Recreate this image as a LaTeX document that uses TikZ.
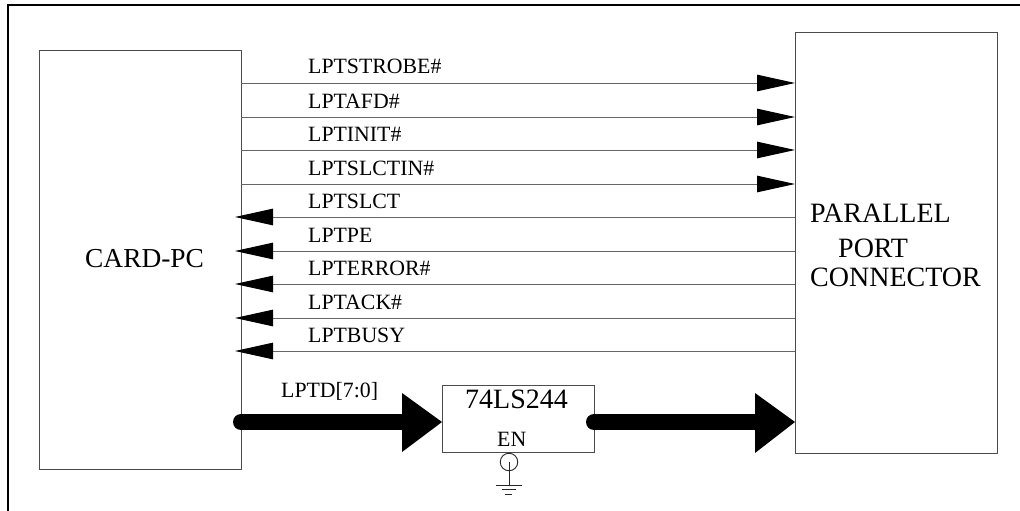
\documentclass[tikz,border=0pt]{standalone}
\usepackage{fontspec}
\setmainfont{Liberation Serif}
\usetikzlibrary{arrows.meta}
\tikzset{
  x=1pt,y=-1pt,
  blk/.style={draw=black!70,line width=0.9pt,fill=white,inner sep=0pt},
  sig/.style={draw=black!60,line width=1pt,-{Triangle[length=38pt,width=16.5pt,color=black]}},
  sigl/.style={font=\fontsize{21.8}{24}\selectfont,anchor=base west,inner sep=0pt},
  big/.style={line width=16pt,line cap=round,black},
  bighead/.style={fill=black,draw=none},
  txt/.style={font=\fontsize{28}{30}\selectfont,anchor=base west,inner sep=0pt},
  smalltxt/.style={font=\fontsize{21.8}{24}\selectfont,anchor=base west,inner sep=0pt},
  gnd/.style={draw=black!85,line width=0.9pt},
}
\begin{document}
\begin{tikzpicture}
\useasboundingbox (0,0) rectangle (1020,511);
\draw[line width=2pt,black] (8,511) -- (8,5) -- (1020,5);
% boxes
\node[blk,minimum width=202pt,minimum height=419pt] (cp) at (140,259.5) {};
\node[blk,minimum width=202pt,minimum height=421pt] (pp) at (896,242.5) {};
\node[blk,minimum width=152pt,minimum height=67pt] (ls) at (518,419) {};
\node[txt,font=\fontsize{27.4}{30}\selectfont] (cpt) at (85,267) {CARD-PC};
\node[txt] (pp1) at (810,222) {PARALLEL};
\node[txt] (pp2) at (838,257) {PORT};
\node[txt] (pp3) at (810,286) {CONNECTOR};
\node[txt] (lst) at (465,408) {74LS244};
\node[smalltxt] (en) at (497,446) {EN};
\node[sigl] (d) at (281,397) {LPTD[7:0]};
% signals
\foreach \y/\t/\n in {83/LPTSTROBE\#/a,117/LPTAFD\#/b,150/LPTINIT\#/c,184/LPTSLCTIN\#/d}{
  \coordinate (s\n) at (241,\y);
  \coordinate (e\n) at (795,\y);
  \draw[sig] (s\n) -- (e\n);
  \node[sigl] (l\n) at (308,\y-9) {\t};
}
\foreach \y/\t/\n in {217/LPTSLCT/e,251/LPTPE/f,284/LPTERROR\#/g,318/LPTACK\#/h,351/LPTBUSY/i}{
  \coordinate (s\n) at (795,\y);
  \coordinate (e\n) at (235,\y);
  \draw[sig] (s\n) -- (e\n);
  \node[sigl] (l\n) at (308,\y-9) {\t};
}
% buses
\draw[big] (241,422) -- (403,422);
\fill[bighead] (402,393) -- (442,422) -- (402,452) -- cycle;
\draw[big] (594,422) -- (756,422);
\fill[bighead] (755,393) -- (795,422) -- (755,453) -- cycle;
% enable
\node[draw=black!85,line width=0.9pt,circle,minimum size=17.5pt,inner sep=0pt] (ci) at (509,462) {};
\coordinate (g0) at (509,485);
\draw[gnd] (ci.center) -- (g0);
\draw[gnd] (495.5,485) -- (521.5,485);
\draw[gnd] (502,489.5) -- (516,489.5);
\draw[gnd] (505,494) -- (512,494);
\end{tikzpicture}
\end{document}
